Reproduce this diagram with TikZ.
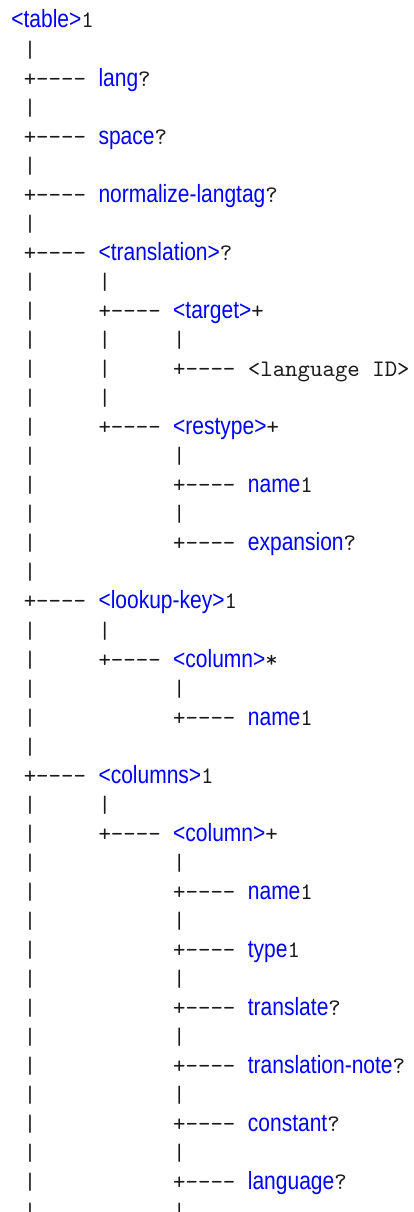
\documentclass[tikz,border=0pt]{standalone}
\usepackage{fontspec}
\newfontfamily\monoff{lmmono10-regular.otf}[Ligatures=TeXOff]
\newfontfamily\labff{Liberation Sans}[FakeStretch=0.84]
\definecolor{ink}{HTML}{1A1A1A}
\definecolor{linkblue}{HTML}{0000FF}
\newcommand\monof{\monoff\fontsize{23.7}{28}\selectfont}
\newcommand\labf{\labff\fontsize{25}{30}\selectfont}
% column x / line baseline
\newcommand\TBar[2]{\node[mono] (v#1-#2) at ({-1.1+#1*12.45},{1184-#2*29.05}) {|};}
\newcommand\TBranch[4]{%
  \node[mono] (b#1-#2) at ({-1.1+#1*12.45},{1184-#2*29.05}) {+----};
  \node[lab] (l#2) at ({-1.1+(#1+6)*12.45},{1184-#2*29.05}) {#3};
  \node[mono] (s#2) at (l#2.base east) {#4};}
\begin{document}
\begin{tikzpicture}[x=1pt,y=1pt,
  mono/.style={font=\monof, text=ink, inner sep=0pt, outer sep=0pt, anchor=base west},
  lab/.style={font=\labf, text=linkblue, inner sep=0pt, outer sep=0pt, anchor=base west}]
\useasboundingbox (0,0) rectangle (414,1212);
\clip (0,0) rectangle (414,1212);
% root
\node[lab] (root) at ({-1.1+1*12.45},1184) {<table>};
\node[mono] (rootsuf) at (root.base east) {1};
% vertical bars
\foreach \l in {1,3,5,7,9,10,11,12,13,14,15,16,17,18,19,21,22,23,24,25,27,28,29,30,31,32,33,34,35,36,37,38,39,40,41} {\TBar{2}{\l}}
\foreach \l in {9,11,12,13,21,27} {\TBar{8}{\l}}
\foreach \l in {11,15,17,23,29,31,33,35,37,39,41} {\TBar{14}{\l}}
% branches
\TBranch{2}{2}{lang}{?}
\TBranch{2}{4}{space}{?}
\TBranch{2}{6}{normalize-langtag}{?}
\TBranch{2}{8}{<translation>}{?}
\TBranch{8}{10}{<target>}{+}
\node[mono] (b14-12) at ({-1.1+14*12.45},{1184-12*29.05}) {+----};
\node[mono] (l12) at ({-1.1+20*12.45},{1184-12*29.05}) {<language ID>};
\TBranch{8}{14}{<restype>}{+}
\TBranch{14}{16}{name}{1}
\TBranch{14}{18}{expansion}{?}
\TBranch{2}{20}{<lookup-key>}{1}
\TBranch{8}{22}{<column>}{*}
\TBranch{14}{24}{name}{1}
\TBranch{2}{26}{<columns>}{1}
\TBranch{8}{28}{<column>}{+}
\TBranch{14}{30}{name}{1}
\TBranch{14}{32}{type}{1}
\TBranch{14}{34}{translate}{?}
\TBranch{14}{36}{translation-note}{?}
\TBranch{14}{38}{constant}{?}
\TBranch{14}{40}{language}{?}
\end{tikzpicture}
\end{document}
